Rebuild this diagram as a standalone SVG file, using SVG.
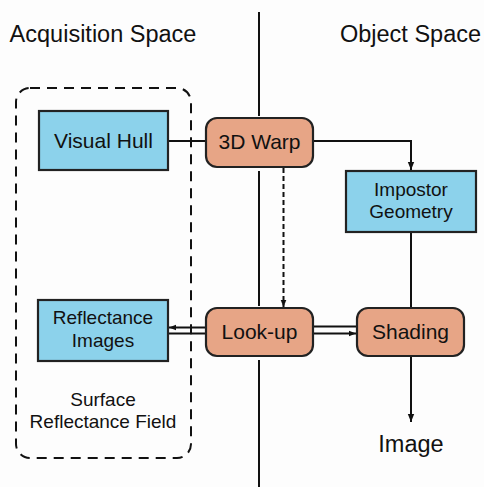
<svg xmlns="http://www.w3.org/2000/svg" width="484" height="487" viewBox="0 0 484 487">
<defs>
<style>
text{font-family:"Liberation Sans",Arial,sans-serif;fill:#111;text-anchor:middle}
.blue{fill:#8cd2eb;stroke:#222;stroke-width:2.2}
.sal{fill:#e7a586;stroke:#222;stroke-width:2.2}
.ln{stroke:#111;stroke-width:2;fill:none}
.lbl{font-size:21px}
.sm{font-size:19px}
.big{font-size:23.5px}
</style>
<marker id="ah" viewBox="0 0 10 10" refX="10" refY="5" markerWidth="8" markerHeight="8" markerUnits="userSpaceOnUse" orient="auto"><path d="M0,1 L10,5 L0,9 Z" fill="#111"/></marker>
<marker id="ahs" viewBox="0 0 10 10" refX="10" refY="5" markerWidth="7" markerHeight="7" markerUnits="userSpaceOnUse" orient="auto"><path d="M0,1 L10,5 L0,9 Z" fill="#111"/></marker>
</defs>
<rect width="484" height="487" fill="#fdfdfd"/>
<text class="big" x="103" y="42">Acquisition Space</text>
<text class="big" x="410.5" y="42">Object Space</text>
<g id="connectors">
<line class="ln" x1="259" y1="12" x2="259" y2="116"/>
<line class="ln" x1="259" y1="171" x2="259" y2="306"/>
<line class="ln" x1="259" y1="360" x2="259" y2="487"/>
<line class="ln" x1="168" y1="141" x2="206" y2="141"/>
<polyline class="ln" points="313,141 411,141 411,170" marker-end="url(#ah)"/>
<line class="ln" x1="283.5" y1="168" x2="283.5" y2="307" stroke-dasharray="5,3" marker-end="url(#ahs)"/>
<line class="ln" x1="206" y1="327.5" x2="169" y2="327.5" marker-end="url(#ahs)"/>
<line class="ln" x1="168" y1="333.5" x2="206" y2="333.5"/>
<line class="ln" x1="313" y1="326.5" x2="357" y2="326.5"/>
<line class="ln" x1="313" y1="333.5" x2="356" y2="333.5" marker-end="url(#ahs)"/>
<line class="ln" x1="411" y1="232" x2="411" y2="308"/>
<line class="ln" x1="411" y1="356" x2="411" y2="422" marker-end="url(#ah)"/>
</g>
<g id="surface-reflectance-field">
<rect x="16" y="88" width="175" height="370" rx="14" fill="none" stroke="#111" stroke-width="2" stroke-dasharray="10,7"/>
<text class="sm" x="103" y="406">Surface</text>
<text class="sm" x="103" y="428">Reflectance Field</text>
</g>
<g id="visual-hull">
<rect class="blue" x="39" y="111" width="129" height="59"/>
<text class="lbl" x="103.5" y="148">Visual Hull</text>
</g>
<g id="warp">
<rect class="sal" x="206" y="118" width="107" height="49" rx="11"/>
<text class="lbl" x="259.5" y="149">3D Warp</text>
</g>
<g id="impostor">
<rect class="blue" x="346" y="171" width="130" height="61"/>
<text class="sm" x="411" y="196">Impostor</text>
<text class="sm" x="411" y="218">Geometry</text>
</g>
<g id="reflectance-images">
<rect class="blue" x="38" y="300" width="130" height="61"/>
<text class="sm" x="103" y="324">Reflectance</text>
<text class="sm" x="103" y="347">Images</text>
</g>
<g id="lookup">
<rect class="sal" x="206" y="308" width="107" height="48" rx="11"/>
<text class="lbl" x="259.5" y="339">Look-up</text>
</g>
<g id="shading">
<rect class="sal" x="357" y="308" width="107" height="48" rx="11"/>
<text class="lbl" x="410.5" y="339">Shading</text>
</g>
<g id="image">
<text class="big" x="411" y="452">Image</text>
</g>
</svg>
